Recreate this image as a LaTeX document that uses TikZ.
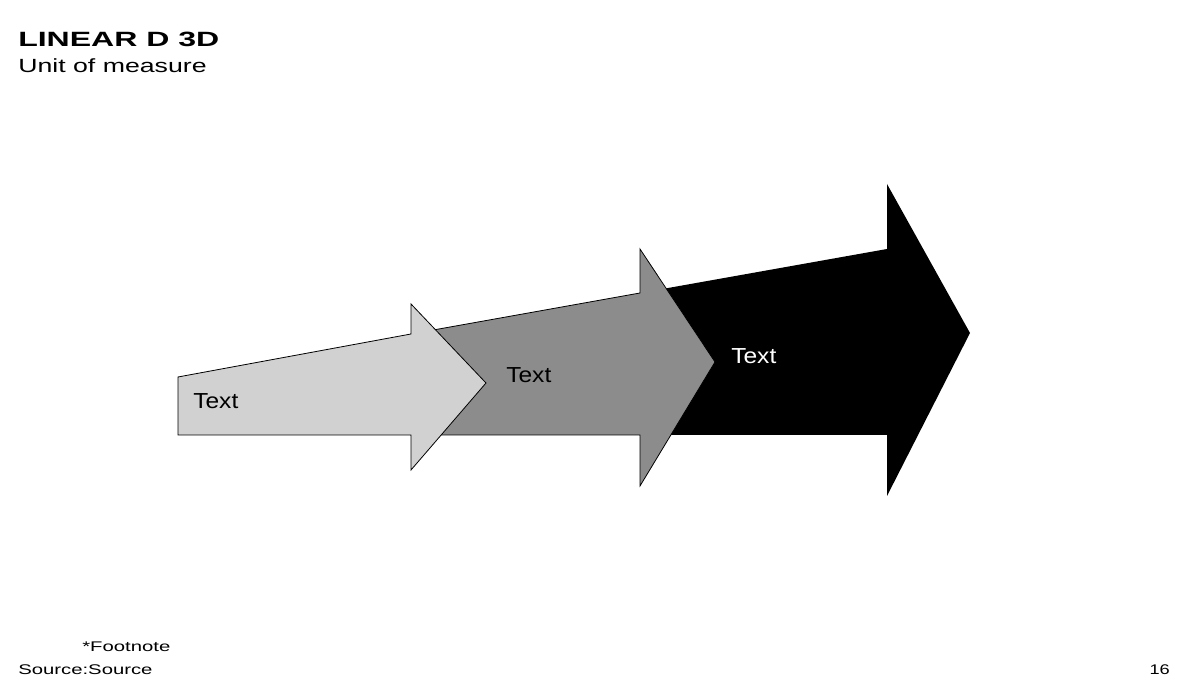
\documentclass[tikz,border=0pt]{standalone}
\usepackage{fontspec}
\setmainfont{Liberation Sans}
\usetikzlibrary{positioning}

\definecolor{lightstep}{gray}{0.82}
\definecolor{midstep}{gray}{0.55}
\newcommand{\wtxt}[2]{\scalebox{#1}[1]{#2}}

\begin{document}
\begin{tikzpicture}[
  x=0.75pt, y=0.75pt,
  lbl/.style={inner sep=0pt, anchor=base west},
  arrowshape/.style={draw=black, line width=0.6pt, line join=miter},
  steptext/.style={lbl, font=\fontsize{16.3}{19}\selectfont}
]
  \useasboundingbox (0,0) rectangle (1200,680);

  % header
  \node[lbl, font=\fontsize{15.5}{18}\selectfont\bfseries] (title) at (18,633) {\wtxt{1.55}{LINEAR D 3D}};
  \node[lbl, font=\fontsize{14.3}{17}\selectfont] (unit) at (18,607) {\wtxt{1.4}{Unit of measure}};

  % arrows, back to front
  \fill[black] (640,245) -- (640,387) -- (887,431) -- (887,496) -- (970,347)
    -- (887,184) -- (887,245) -- cycle;
  \draw[arrowshape, fill=midstep] (411,245) -- (411,346) -- (640,387) -- (640,431)
    -- (715,318) -- (640,194) -- (640,245) -- cycle;
  \draw[arrowshape, fill=lightstep] (178,245) -- (178,303) -- (411,346) -- (411,376)
    -- (486,297) -- (411,210) -- (411,245) -- cycle;

  \node[steptext] (t1) at (193,271) {\wtxt{1.13}{Text}};
  \node[steptext] (t2) at (506,297) {\wtxt{1.13}{Text}};
  \node[steptext, text=white] (t3) at (731,316) {\wtxt{1.13}{Text}};

  % footer
  \node[lbl, font=\fontsize{10.5}{12}\selectfont] (foot) at (82,28) {\wtxt{1.45}{*Footnote}};
  \node[lbl, font=\fontsize{10.5}{12}\selectfont] (src) at (18,5) {\wtxt{1.45}{Source:Source}};
  \node[lbl, anchor=base east, font=\fontsize{10.5}{12}\selectfont] (page) at (1170,5) {\wtxt{1.3}{16}};
\end{tikzpicture}
\end{document}
